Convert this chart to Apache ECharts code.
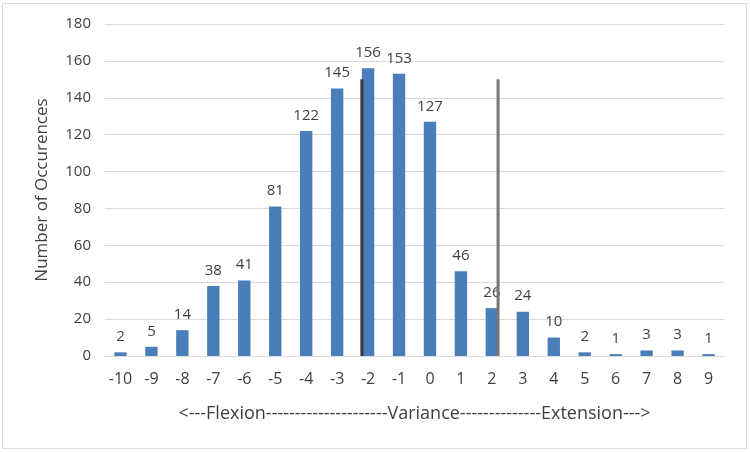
<!DOCTYPE html>
<html>
<head>
<meta charset="utf-8">
<script src="https://cdn.jsdelivr.net/npm/echarts@6/dist/echarts.min.js"></script>
<style>
    html, body { margin: 0; padding: 0; background: #fff; }
    #frame { position: absolute; left: 2px; top: 3px; width: 743px; height: 444px; border: 1px solid #d9d9d9; }
    #main { position: absolute; left: 0; top: 0; width: 750px; height: 452px; }
</style>
</head>
<body>
<div id="frame"></div>
<div id="main"></div>
<script>
// 横轴类别（角度偏差）
var categories = ['-10', '-9', '-8', '-7', '-6', '-5', '-4', '-3', '-2', '-1', '0', '1', '2', '3', '4', '5', '6', '7', '8', '9'];
// 出现次数
var counts = [2, 5, 14, 38, 41, 81, 122, 145, 156, 153, 127, 46, 26, 24, 10, 2, 1, 3, 3, 1];
// 两条参考竖线的位置和高度
var refLineX = [-2.2, 2.2];
var refLineTop = [150, 150];
var refLineColor = ['#3a3a3a', '#767676'];

var font = 'Open Sans';
var myChart = echarts.init(document.getElementById('main'));

var refSeries = [];
for (var i = 0; i < refLineX.length; i++) {
    refSeries.push({
        type: 'line',
        xAxisIndex: 1,
        symbol: 'none',
        silent: true,
        z: 5,
        lineStyle: { color: refLineColor[i], width: 3 },
        data: [[refLineX[i], 0], [refLineX[i], refLineTop[i]]]
    });
}

var option = {
    animation: false,
    grid: { left: 105, right: 26, top: 24, bottom: 96 },
    xAxis: [
        {
            type: 'category',
            data: categories,
            name: '<---Flexion---------------------Variance--------------Extension--->',
            nameLocation: 'middle',
            nameGap: 49,
            nameTextStyle: { color: '#404040', fontSize: 18, fontFamily: font },
            axisLine: { lineStyle: { color: '#d9d9d9' } },
            axisTick: { show: false },
            axisLabel: { color: '#404040', fontSize: 16, fontFamily: font, margin: 15 }
        },
        {
            type: 'value',
            min: -10.5,
            max: 9.5,
            show: false
        }
    ],
    yAxis: {
        type: 'value',
        min: 0,
        max: 180,
        interval: 20,
        name: 'Number of Occurences',
        nameLocation: 'middle',
        nameGap: 54,
        nameTextStyle: { color: '#404040', fontSize: 17, fontFamily: font },
        axisLine: { show: false },
        axisTick: { show: false },
        splitLine: { lineStyle: { color: '#d9d9d9' } },
        axisLabel: { color: '#404040', fontSize: 15, fontFamily: font, margin: 14 }
    },
    series: [
        {
            name: 'count',
            type: 'bar',
            barWidth: '40%',
            data: counts,
            itemStyle: { color: '#4a7ebb' },
            label: {
                show: true,
                position: 'top',
                distance: 8,
                color: '#404040',
                fontSize: 15,
                fontFamily: font
            }
        }
    ].concat(refSeries)
};
myChart.setOption(option, true);
</script>
</body>
</html>
